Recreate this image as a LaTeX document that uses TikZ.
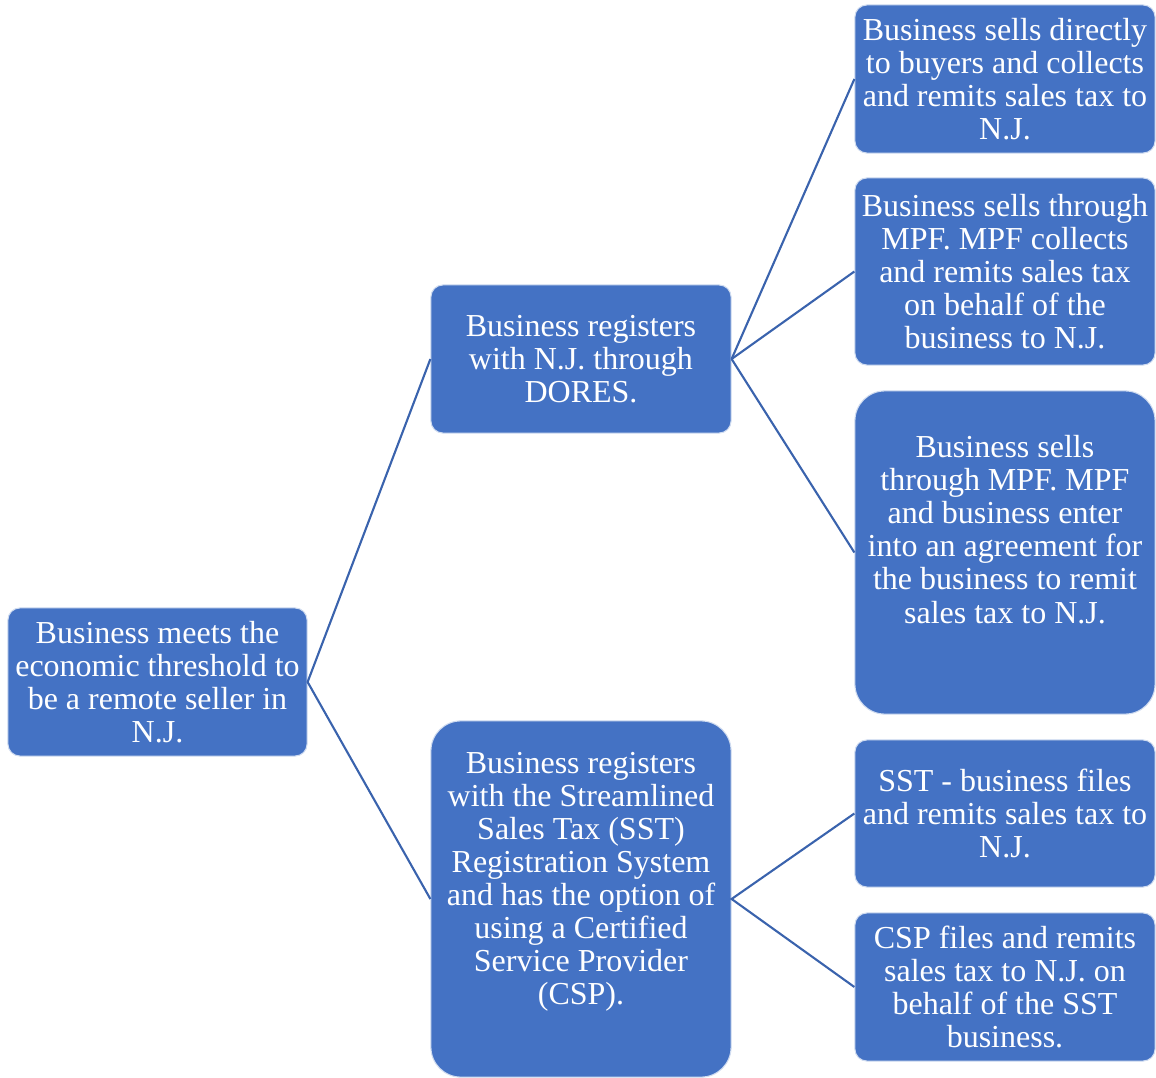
\documentclass[tikz,border=0pt]{standalone}
\usepackage{fontspec}
\setmainfont{Liberation Serif}
\usepackage{tikz}

\definecolor{boxblue}{HTML}{4472C4}
\definecolor{linkblue}{HTML}{3A63AD}

\begin{document}
\begin{tikzpicture}[
    x=0.01cm,
    y=-0.01cm,
    textfont/.style={
        text=white,
        align=center,
        font=\fontsize{9.1pt}{9.4pt}\selectfont
    },
    box/.style={
        textfont,
        fill=boxblue,
        draw=white!75!boxblue,
        line width=0.3pt,
        rounded corners=0.12cm,
        minimum width=3cm,
        minimum height=1.48cm,
        inner sep=0pt
    },
    tallbox/.style={
        box,
        rounded corners=0.3cm
    },
    link/.style={
        draw=linkblue,
        line width=0.6pt
    }
]

\useasboundingbox (0,0) rectangle (1156,1078);


\node[box, minimum width=2.99cm] (root) at (157.5,682)
    {Business meets the\\economic threshold to\\be a remote seller in\\N.J.};


\node[box] (dores) at (581,359)
    {Business registers\\with N.J. through\\DORES.};

\node[tallbox, minimum height=3.56cm] (sst) at (581,899) {};
\node[textfont] (ssttext) at (581,882)
    {Business registers\\with the Streamlined\\Sales Tax (SST)\\Registration System\\and has the option of\\using a Certified\\Service Provider\\(CSP).};


\node[box] (direct) at (1005,79)
    {Business sells directly\\to buyers and collects\\and remits sales tax to\\N.J.};

\node[box, minimum height=1.87cm] (mpf) at (1005,271.5)
    {Business sells through\\MPF. MPF collects\\and remits sales tax\\on behalf of the\\business to N.J.};

\node[tallbox, minimum height=3.23cm] (agree) at (1005,552.5) {};
\node[textfont] (agreetext) at (1005,529.5)
    {Business sells\\through MPF. MPF\\and business enter\\into an agreement for\\the business to remit\\sales tax to N.J.};

\node[box, minimum height=1.47cm] (sstfile) at (1005,813.5)
    {SST - business files\\and remits sales tax to\\N.J.};

\node[box] (csp) at (1005,987)
    {CSP files and remits\\sales tax to N.J. on\\behalf of the SST\\business.};


\draw[link] (dores.west) -- (root.east) -- (sst.west);

\draw[link] (direct.west) -- (dores.east);
\draw[link] (mpf.west) -- (dores.east);
\draw[link] (agree.west) -- (dores.east);

\draw[link] (sstfile.west) -- (sst.east) -- (csp.west);

\end{tikzpicture}
\end{document}
